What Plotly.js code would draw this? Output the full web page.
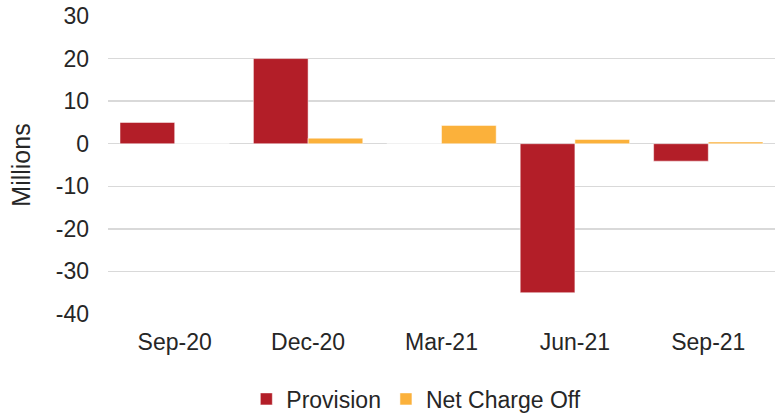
<!DOCTYPE html>
<html><head><meta charset="utf-8">
<script src="https://cdn.plot.ly/plotly-3.0.1.min.js"></script>
<style>html,body{margin:0;padding:0;background:#fff}#chart{width:782px;height:413px}</style>
</head><body><div id="chart"></div>
<script>
const categories = ["Sep-20", "Dec-20", "Mar-21", "Jun-21", "Sep-21"];
const provision = [5.0, 20.0, 0, -35.0, -4.1];
const netChargeOff = [0, 1.3, 4.3, 1.0, 0.4];
const yTicks = [-40, -30, -20, -10, 0, 10, 20, 30];
const yTickText = yTicks.map(v => String(v));

const font = {family: "Liberation Sans, Arial, sans-serif", size: 23, color: "#262626"};
const titleFont = {family: "Liberation Sans, Arial, sans-serif", size: 25, color: "#262626"};
const data = [
  {type: "bar", name: "Provision", x: categories, y: provision,
   marker: {color: "#B31E28", line: {color: "#ffffff", width: 0.5}}},
  {type: "bar", name: "Net Charge Off", x: categories, y: netChargeOff,
   marker: {color: "#FBB13B", line: {color: "#ffffff", width: 0.5}}}
];
const layout = {
  width: 782, height: 413,
  margin: {l: 108, r: 7, t: 16, b: 99, autoexpand: false},
  paper_bgcolor: "#fff", plot_bgcolor: "#fff",
  font: font,
  barmode: "group", bargap: 0.18, bargroupgap: 0,
  showlegend: true,
  legend: {orientation: "h", xref: "container", yref: "container",
           x: 0.315, xanchor: "left", y: 0.034, yanchor: "middle",
           font: font, traceorder: "normal", itemwidth: 30},
  xaxis: {type: "category", showgrid: false, zeroline: false, showline: false,
          ticks: "", tickfont: font, ticklabelstandoff: 12, automargin: false},
  yaxis: {range: [-40, 30], tickvals: yTicks, ticktext: yTickText, showgrid: true, gridcolor: "#d9d9d9",
          gridwidth: 1.5, zeroline: true, zerolinecolor: "#d9d9d9", zerolinewidth: 1.5,
          ticks: "", tickfont: font, ticklabelstandoff: 18, automargin: false,
          title: {text: "Millions", font: titleFont, standoff: 18}}
};
Plotly.newPlot("chart", data, layout, {displayModeBar: false, staticPlot: true});
</script></body></html>
